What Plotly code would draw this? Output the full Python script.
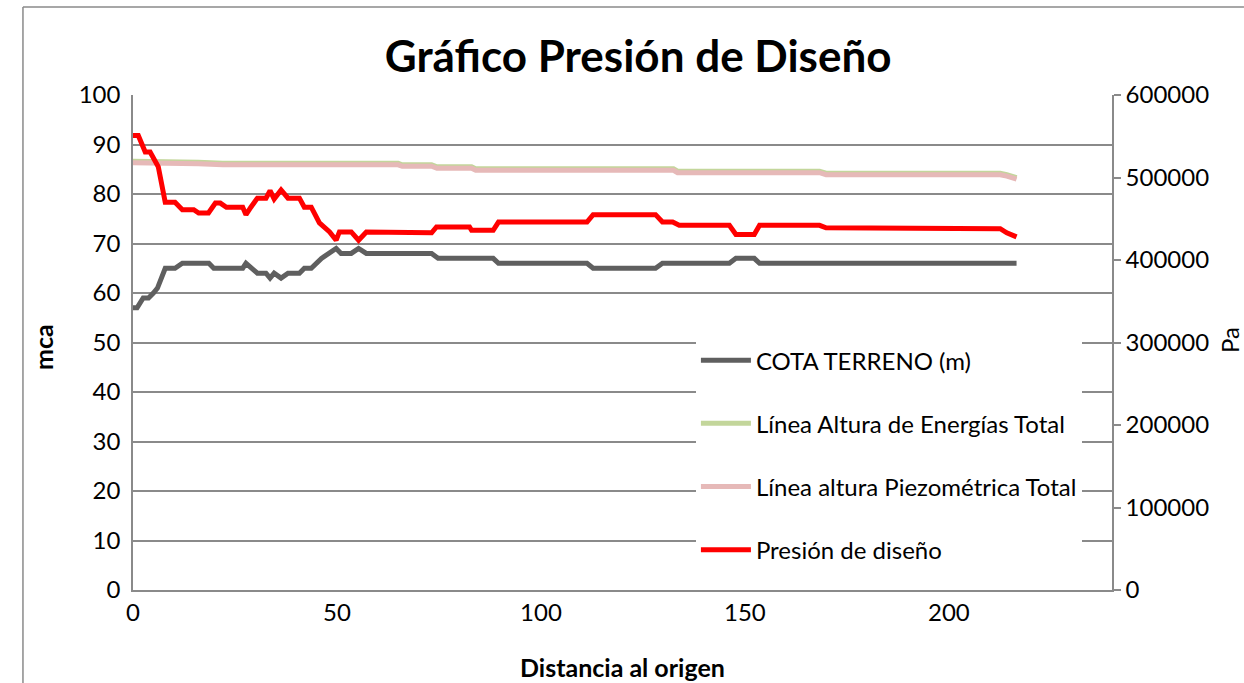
import plotly.graph_objects as go

# Distancia al origen (m) and values for each profile
x_cota = [0, 1.0, 2.5, 3.8, 5.0, 6.0, 7.9, 10.3, 12.1, 18.6, 19.8, 26.9, 27.7, 28.9,
          30.5, 32.6, 33.6, 34.6, 36.3, 38.0, 40.8, 42.0, 43.7, 46.2, 48.2, 49.8,
          51.0, 53.5, 55.3, 57.2, 73.2, 74.8, 88.3, 89.6, 111.3, 112.8, 128.1,
          129.8, 146.2, 147.8, 152.3, 153.6, 216.6]
cota_terreno = [57, 57, 59, 59, 60, 61, 65, 65, 66, 66, 65, 65, 66, 65,
                64, 64, 63, 64, 63, 64, 64, 65, 65, 67, 68, 69,
                68, 68, 69, 68, 68, 67, 67, 66, 66, 65, 65,
                66, 66, 67, 67, 66, 66]

x_lineas = [0, 14.4, 16.0, 22.0, 65.0, 66.0, 73.2, 74.5, 83.0, 84.0, 132.5, 133.5,
            168.3, 169.9, 212.6, 214.2, 216.6]
linea_energia = [86.6, 86.6, 86.4, 86.2, 86.2, 85.9, 85.9, 85.5, 85.5, 85.1, 85.1, 84.6,
                 84.6, 84.2, 84.2, 83.9, 83.3]
linea_piezometrica = [86.3, 86.3, 86.1, 85.9, 85.9, 85.6, 85.6, 85.2, 85.2, 84.8, 84.8, 84.3,
                      84.3, 83.9, 83.9, 83.6, 83.0]

x_presion = [0, 1.3, 3.0, 4.2, 6.2, 7.9, 10.3, 12.1, 14.9, 16.1, 18.5, 20.2, 21.4, 22.9,
             26.9, 27.7, 28.9, 30.5, 32.6, 33.6, 34.6, 36.3, 38.0, 40.8, 42.0, 43.7,
             45.7, 46.2, 48.2, 49.8, 50.6, 53.5, 55.3, 57.2, 65.0, 65.5, 73.2, 74.4,
             82.5, 83.0, 88.3, 89.6, 111.3, 112.8, 128.1, 129.8, 132.3, 133.9, 146.2,
             147.8, 152.3, 153.6, 168.3, 169.9, 212.6, 214.2, 216.6]
presion_diseno = [551000, 551000, 531000, 531000, 513000, 470000, 470000, 461000, 461000,
                  457000, 457000, 469000, 469000, 464000, 464000, 455000, 464000, 475000,
                  475000, 484000, 474000, 485000, 475000, 475000, 464000, 464000, 445000,
                  443000, 434000, 424000, 434000, 434000, 424000, 434000, 434000, 433000,
                  433000, 440000, 440000, 436000, 436000, 446000, 446000, 455000, 455000,
                  446000, 446000, 442000, 442000, 431000, 431000, 442000, 442000, 439000,
                  438000, 433000, 428000]

x_ticks = [0, 50, 100, 150, 200]

FONT = "Lato"
GRID = "#8a8a8a"

fig = go.Figure()
fig.add_trace(go.Scatter(x=x_cota, y=cota_terreno, name="COTA TERRENO (m)", mode="lines",
                         line=dict(color="#5f5f5f", width=5), legendgroup="a"))
fig.add_trace(go.Scatter(x=x_lineas, y=linea_energia, name="Línea Altura de Energías Total",
                         mode="lines", line=dict(color="#c3d69b", width=5), legendgroup="b"))
fig.add_trace(go.Scatter(x=x_lineas, y=linea_piezometrica,
                         name="Línea altura Piezométrica Total", mode="lines",
                         line=dict(color="#e6b9b8", width=5), legendgroup="c"))
fig.add_trace(go.Scatter(x=x_presion, y=presion_diseno, name="Presión de diseño", mode="lines",
                         line=dict(color="#ff0000", width=5), yaxis="y2", legendgroup="d"))

fig.update_layout(
    width=1244, height=683,
    margin=dict(l=133, r=132, t=95, b=93),
    paper_bgcolor="white", plot_bgcolor="white",
    font=dict(family=FONT, size=24, color="black"),
    showlegend=True,
    legend=dict(x=0.575, y=0.509, xanchor="left", yanchor="top",
                bgcolor="white", font=dict(size=24, family=FONT),
                traceorder="grouped", tracegroupgap=29, itemwidth=50),
    xaxis=dict(range=[0, 240], tickvals=x_ticks, showgrid=False, zeroline=False,
               showline=True, linecolor=GRID, linewidth=1.5, ticks="",
               tickfont=dict(size=24)),
    yaxis=dict(range=[0, 100], dtick=10, showgrid=True, gridcolor=GRID, gridwidth=1.5,
               zeroline=False, showline=True, linecolor=GRID, linewidth=1.5, ticks="",
               tickfont=dict(size=24), ticklabelstandoff=6),
    yaxis2=dict(range=[0, 600000], dtick=100000, overlaying="y", side="right",
                showgrid=False, zeroline=False, showline=True, linecolor=GRID,
                linewidth=1.5, ticks="outside", ticklen=7, tickcolor=GRID, tickwidth=1.5,
                tickformat="d", tickfont=dict(size=24)),
    title=dict(text="<b>Gráfico Presión de Diseño</b>", x=0.513, xref="container",
               y=0.917, yref="container", xanchor="center", yanchor="middle",
               font=dict(size=44, family=FONT)),
)

# white panel behind the legend
fig.add_shape(type="rect", xref="paper", yref="paper", x0=0.567, x1=0.993, y0=0.03,
              y1=0.56, line=dict(width=0), fillcolor="white", layer="between")

# chart frame (left and top edges)
fig.add_shape(type="line", xref="paper", yref="paper", x0=-0.1124, x1=-0.1124, y0=-0.188,
              y1=1.178, line=dict(color=GRID, width=1.5))
fig.add_shape(type="line", xref="paper", yref="paper", x0=-0.1124, x1=1.1348, y0=1.178,
              y1=1.178, line=dict(color=GRID, width=1.5))

# axis titles
fig.add_annotation(text="<b>mca</b>", xref="paper", yref="paper", x=-0.0914, y=0.49,
                   textangle=-90, showarrow=False, font=dict(size=25, family=FONT),
                   xanchor="center", yanchor="middle")
fig.add_annotation(text="Pa", xref="paper", yref="paper", x=1.1196, y=0.505,
                   textangle=-90, showarrow=False, font=dict(size=24, family=FONT),
                   xanchor="center", yanchor="middle")
fig.add_annotation(text="<b>Distancia al origen</b>", xref="paper", yref="paper",
                   x=0.5, y=-0.156, showarrow=False, font=dict(size=25, family=FONT),
                   xanchor="center", yanchor="middle")

fig.write_html("out.html")
